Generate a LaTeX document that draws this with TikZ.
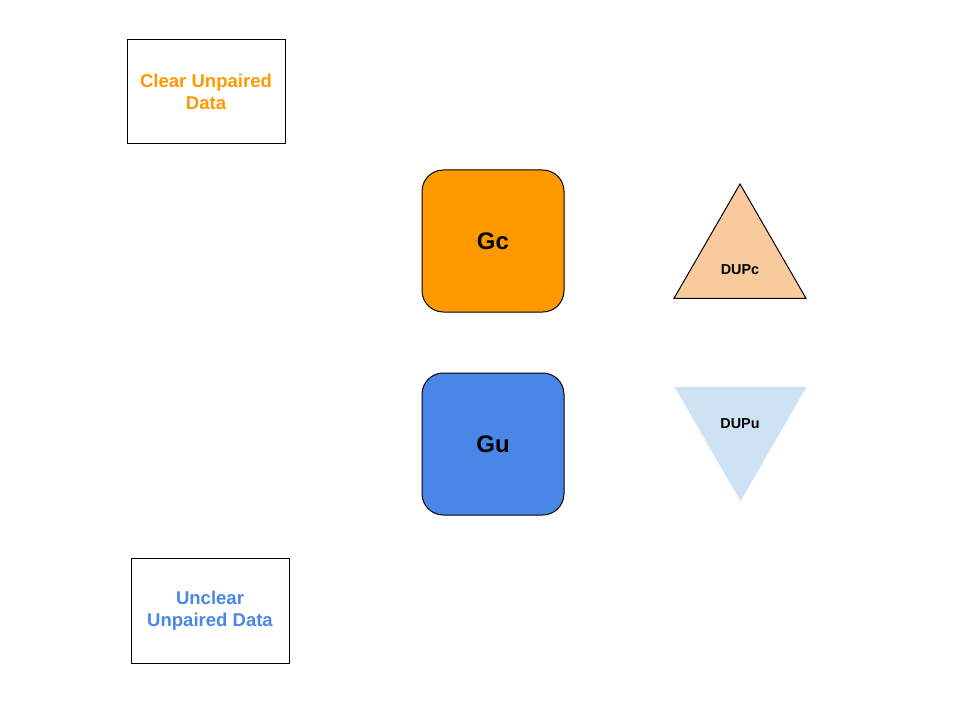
\documentclass[tikz,border=0pt]{standalone}
\usepackage{fontspec}
\setmainfont{Liberation Sans}
\usetikzlibrary{shapes.geometric}
\definecolor{gorange}{HTML}{FF9900}
\definecolor{gblue}{HTML}{4A86E8}
\definecolor{peach}{HTML}{F9CB9C}
\definecolor{paleblue}{HTML}{CFE2F3}
\tikzset{
  databox/.style={draw,line width=0.75pt,minimum width=118.5pt,minimum height=78.5pt,align=center,font=\fontsize{13.9}{16.5}\selectfont\bfseries},
  genbox/.style={draw,line width=0.75pt,rounded corners=16pt,minimum size=106.5pt,font=\fontsize{18}{20}\selectfont\bfseries},
  tri/.style={regular polygon,regular polygon sides=3,minimum size=114.3pt,inner sep=0pt},
  trilabel/.style={font=\fontsize{10.8}{12}\selectfont\bfseries}
}
\begin{document}
\begin{tikzpicture}[x=0.75pt,y=-0.75pt]
            \useasboundingbox (0,0) rectangle (960,720);
            \node (clear) at (206,91.5) [databox,text=gorange] {Clear Unpaired\\Data};
            \node (unclear) at (210,611) [databox,text=gblue] {Unclear\\Unpaired Data};

            \node (gc) at (493,241) [genbox,fill=gorange] {Gc};
            \node (gu) at (493,444) [genbox,fill=gblue] {Gu};

            \node (dupc) at (740,260.2) [tri,draw,line width=0.75pt,fill=peach] {};
            \node (dupu) at (740.5,425) [tri,shape border rotate=180,fill=paleblue] {};
            \node (dupclabel) at (740,270) [trilabel] {DUPc};
            \node (dupulabel) at (740,424) [trilabel] {DUPu};

        \end{tikzpicture}
\end{document}
